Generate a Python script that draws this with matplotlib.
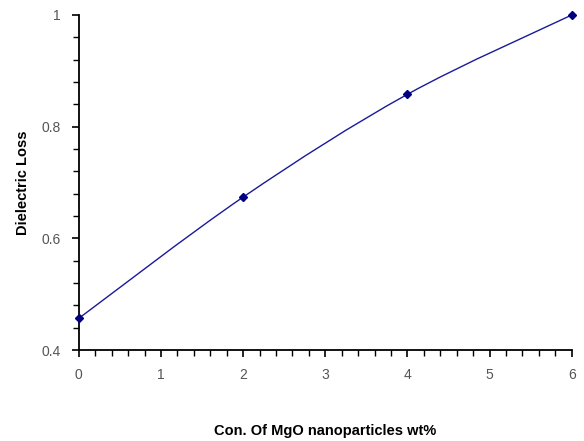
import numpy as np
import matplotlib
matplotlib.use('Agg')
import matplotlib.pyplot as plt
from matplotlib.path import Path
from matplotlib.patches import PathPatch
from matplotlib.ticker import MultipleLocator

# data
conc = [0, 2, 4, 6]
loss = [0.457, 0.674, 0.858, 1.0]
ytick_vals = [0.4, 0.6, 0.8, 1.0]
ytick_text = ['0.4', '0.6', '0.8', '1']

plt.rcParams['font.family'] = ['Liberation Sans', 'DejaVu Sans']

fig = plt.figure(figsize=(5.84, 4.41), dpi=100)
ax = fig.add_axes([0.135, 0.206, 0.844, 0.76])

# smooth line (Catmull-Rom through the points, drawn as bezier path)
x = np.array(conc, dtype=float)
y = np.array(loss, dtype=float)
verts = [(x[0], y[0])]
codes = [Path.MOVETO]
for i in range(len(x) - 1):
    x0, y0 = (x[i - 1], y[i - 1]) if i > 0 else (x[i], y[i])
    x3, y3 = (x[i + 2], y[i + 2]) if i + 2 < len(x) else (x[i + 1], y[i + 1])
    c1 = (x[i] + (x[i + 1] - x0) / 6, y[i] + (y[i + 1] - y0) / 6)
    c2 = (x[i + 1] - (x3 - x[i]) / 6, y[i + 1] - (y3 - y[i]) / 6)
    verts += [c1, c2, (x[i + 1], y[i + 1])]
    codes += [Path.CURVE4] * 3
ax.add_patch(PathPatch(Path(verts, codes), fill=False, edgecolor='#1a1a99', lw=1.0, clip_on=False))
ax.plot(conc, loss, linestyle='none', marker='D', markersize=4.5, color='#000080', clip_on=False, zorder=3)

ax.set_xlim(0, 6)
ax.set_ylim(0.4, 1.0)
ax.xaxis.set_major_locator(MultipleLocator(1))
ax.xaxis.set_minor_locator(MultipleLocator(0.2))
ax.set_yticks(ytick_vals)
ax.set_yticklabels(ytick_text)
ax.yaxis.set_minor_locator(MultipleLocator(0.04))

for s in ['top', 'right']:
    ax.spines[s].set_visible(False)
for s in ['left', 'bottom']:
    ax.spines[s].set_linewidth(1.3)

ax.tick_params(which='major', length=5, width=1.2, labelsize=10, labelcolor='#555555', pad=8)
ax.tick_params(which='minor', length=4, width=1.0)

ax.set_xlabel('Con. Of MgO nanoparticles wt%', fontsize=10.5, fontweight='bold', labelpad=30)
ax.set_ylabel('Dielectric Loss', fontsize=10.5, fontweight='bold', labelpad=8)

fig.savefig('out.png', dpi=100)
